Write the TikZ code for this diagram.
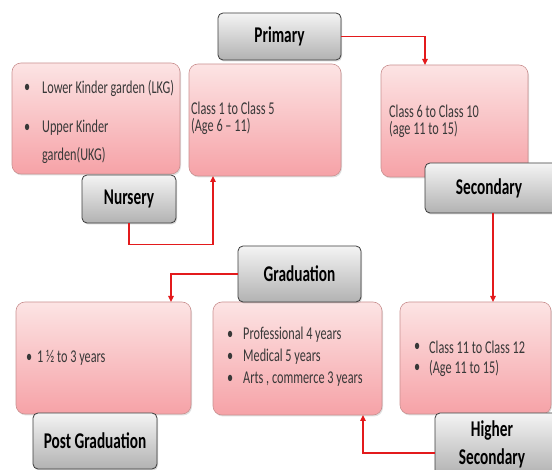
\documentclass[tikz,border=0pt]{standalone}
\usepackage{fontspec}
\setmainfont{Carlito}[FakeStretch=0.68]
\usetikzlibrary{arrows.meta,shadows}
\definecolor{pinktop}{HTML}{FCE4E4}
\definecolor{pinkbot}{HTML}{F6A2A7}
\definecolor{pinkbrd}{HTML}{C99090}
\definecolor{graytop}{HTML}{F4F4F4}
\definecolor{graybot}{HTML}{B2B2B2}
\definecolor{graybrd}{HTML}{3C3C3C}
\definecolor{arrred}{HTML}{E31A1C}
\definecolor{txtcol}{HTML}{383838}
\tikzset{
  pinkbox/.style={draw=pinkbrd, line width=0.6pt, rounded corners=9pt,
    top color=pinktop, bottom color=pinkbot,
    drop shadow={opacity=0.25, shadow xshift=1pt, shadow yshift=-1.5pt}},
  graybox/.style={draw=graybrd, line width=0.8pt, rounded corners=5pt,
    top color=graytop, bottom color=graybot,
    font=\fontsize{22.5}{28}\selectfont\bfseries, text=black, align=center,
    drop shadow={opacity=0.3, shadow xshift=1pt, shadow yshift=-1.5pt}},
  body/.style={font=\fontsize{18}{20}\selectfont, text=txtcol, inner sep=0pt, anchor=west},
  arr/.style={draw=arrred, line width=1.5pt, -{Triangle[length=6pt,width=5.5pt]}}
}
\newcommand\bul{\textbullet}
\begin{document}
\begin{tikzpicture}[x=1pt,y=-1pt]
\useasboundingbox (0,0) rectangle (552,470);
\clip (0,0) rectangle (552,470);
% pink boxes
\path[pinkbox] (12,63) rectangle (180,174) node[pos=.5, inner sep=0] (lkg) {};
\path[pinkbox] (189,64) rectangle (341,176) node[pos=.5, inner sep=0] (c1) {};
\path[pinkbox] (381,65) rectangle (528,177) node[pos=.5, inner sep=0] (c6) {};
\path[pinkbox] (16,302) rectangle (191,414) node[pos=.5, inner sep=0] (pgb) {};
\path[pinkbox] (213,302) rectangle (382,415) node[pos=.5, inner sep=0] (grb) {};
\path[pinkbox] (400,302) rectangle (551,414) node[pos=.5, inner sep=0] (hsb) {};
% anchors for the pink boxes
\coordinate (c1bot) at (213,176);
\coordinate (c6top) at (425,65);
\coordinate (pgtop) at (171,302);
\coordinate (hstop) at (493,302);
\coordinate (grbot) at (363,415);
% texts in pink boxes
\node[body] (t1b) at (24,88) {\bul};
\node[body] (t1) at (42,88) {Lower Kinder garden (LKG)};
\node[body] (t2b) at (24,128) {\bul};
\node[body] (t2) at (42,128) {Upper Kinder};
\node[body] (t3) at (42,155) {garden(UKG)};
\node[body] (t4) at (191,108) {Class 1 to Class 5};
\node[body] (t5) at (191,126) {(Age 6 – 11)};
\node[body] (t6) at (389,111) {Class 6 to Class 10};
\node[body] (t7) at (389,129) {(age 11 to 15)};
\node[body] (t8b) at (26,358) {\bul};
\node[body] (t8) at (37,358) {1 ½ to 3 years};
\node[body] (t9b) at (227,335) {\bul};
\node[body] (t9) at (243,335) {Professional 4 years};
\node[body] (t10b) at (227,357) {\bul};
\node[body] (t10) at (243,357) {Medical 5 years};
\node[body] (t11b) at (227,379) {\bul};
\node[body] (t11) at (243,379) {Arts , commerce 3 years};
\node[body] (t12b) at (414,347) {\bul};
\node[body] (t12) at (429,347) {Class 11 to Class 12};
\node[body] (t13b) at (414,368) {\bul};
\node[body] (t13) at (429,368) {(Age 11 to 15)};
% gray boxes
\node[graybox, minimum width=123pt, minimum height=47pt] (prim) at (279.5,36.5) {Primary};
\node[graybox, minimum width=94pt, minimum height=48pt] (nurs) at (129,199) {Nursery};
\node[graybox, minimum width=140pt, minimum height=50pt] (sec) at (495,188) {\hspace*{-6pt}Secondary\hspace*{6pt}};
\node[graybox, minimum width=130pt, minimum height=62pt] (hs) at (500,444) {\hspace*{-8pt}Higher\hspace*{8pt}\\\hspace*{-8pt}Secondary\hspace*{8pt}};
\node[graybox, minimum width=123pt, minimum height=56pt] (grad) at (299.5,274) {Graduation};
\node[graybox, minimum width=124pt, minimum height=56pt] (pg) at (95,441) {Post Graduation};
% connectors
\draw[arr] (prim.east) -| (c6top);
\draw[arr] (nurs.south) -- ++(0,21) -| (c1bot);
\draw[arr] (grad.west) -| (pgtop);
\draw[arr] (sec.south -| hstop) -- (hstop);
\draw[arr] ([yshift=-9pt]hs.west) -| (grbot);
\end{tikzpicture}
\end{document}
